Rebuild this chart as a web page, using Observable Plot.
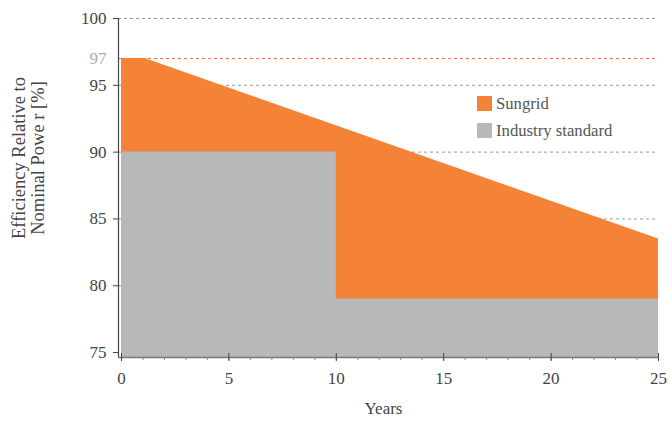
<!DOCTYPE html>
<html>
<head>
<meta charset="utf-8">
<script src="https://cdn.jsdelivr.net/npm/d3@7"></script>
<script src="https://cdn.jsdelivr.net/npm/@observablehq/plot@0.6"></script>
<style>
  html, body { margin: 0; padding: 0; background: #fff; }
  #wrap { position: relative; width: 670px; height: 421px; font-family: "Liberation Serif", serif; }
  .legend { position: absolute; left: 477px; top: 90px; font-size: 16.7px; color: #555; }
  .legend div { display: flex; align-items: center; height: 27px; }
  .legend span.sw { display: inline-block; width: 15px; height: 15px; margin-right: 4px; }
</style>
</head>
<body>
<div id="wrap"></div>
<script>
// Data
const sungridYears = [0, 1.1, 25];
const sungridValues = [97, 97, 83.5];
const industryYears = [0, 10, 25];
const industryValues = [90, 79, 79];
const seriesNames = ["Sungrid", "Industry standard"];
const seriesColors = ["#f48237", "#b7b8ba"];
const yTicks = [75, 80, 85, 90, 95, 100];
const yGrid = [80, 85, 90, 95, 100];
const highlightTick = 97;
const xMajor = [0, 5, 10, 15, 20, 25];
const xMinor = d3.range(0, 26);
const xDomain = [-0.14, 25];
const yDomain = [74.63, 100];

const sungrid = sungridYears.map((x, i) => ({x, y: sungridValues[i]}));
const industry = industryYears.map((x, i) => ({x, y: industryValues[i]}));

const font = "Liberation Serif, serif";
const chart = Plot.plot({
  width: 670,
  height: 421,
  marginLeft: 118,
  marginRight: 12,
  marginTop: 18,
  marginBottom: 64,
  style: {fontFamily: font, fontSize: "17px", color: "#444", background: "#fff"},
  x: {domain: xDomain},
  y: {domain: yDomain},
  marks: [
    Plot.ruleY(yGrid, {stroke: "#999", strokeDasharray: "3,3", strokeWidth: 1}),
    Plot.ruleY([highlightTick], {stroke: "#f06a3c", strokeDasharray: "3,3", strokeWidth: 1}),
    Plot.areaY(sungrid, {x: "x", y1: yDomain[0], y2: "y", fill: seriesColors[0]}),
    Plot.areaY(industry, {x: "x", y1: yDomain[0], y2: "y", fill: seriesColors[1], curve: "step-after"}),
    Plot.ruleX([xDomain[0]], {stroke: "#444", strokeWidth: 1.2}),
    Plot.ruleY([yDomain[0]], {stroke: "#777", strokeWidth: 1.5}),
    Plot.axisY({ticks: yTicks, tickSize: 5, tickPadding: 7, stroke: "#444", fill: "#444", fontSize: 17, label: null}),
    Plot.text([highlightTick], {y: d => d, frameAnchor: "left", dx: -12, textAnchor: "end", fill: "#aaa", fontSize: 17}),
    Plot.axisX({ticks: xMinor, tickSize: 3, text: null, stroke: "#888", label: null}),
    Plot.axisX({ticks: xMajor, tickSize: 8, dy: -4, text: null, stroke: "#444", label: null}),
    Plot.axisX({ticks: xMajor, tickSize: 0, tickPadding: 14, fill: "#444", fontSize: 17, label: null}),
    Plot.text(["Efficiency Relative to\nNominal Powe r [%]"], {frameAnchor: "left", textAnchor: "middle", lineAnchor: "middle", dx: -90, dy: -30, rotate: -90, fill: "#444", fontSize: 18.5, lineHeight: 1.03}),
    Plot.text(["Years"], {frameAnchor: "bottom", dx: -5, dy: 56, fill: "#444", fontSize: 17})
  ]
});
const wrap = document.getElementById("wrap");
wrap.appendChild(chart);
const legend = document.createElement("div");
legend.className = "legend";
seriesNames.forEach((n, i) => {
  const row = document.createElement("div");
  row.innerHTML = `<span class="sw" style="background:${seriesColors[i]}"></span><span>${n}</span>`;
  legend.appendChild(row);
});
wrap.appendChild(legend);
</script>
</body>
</html>
